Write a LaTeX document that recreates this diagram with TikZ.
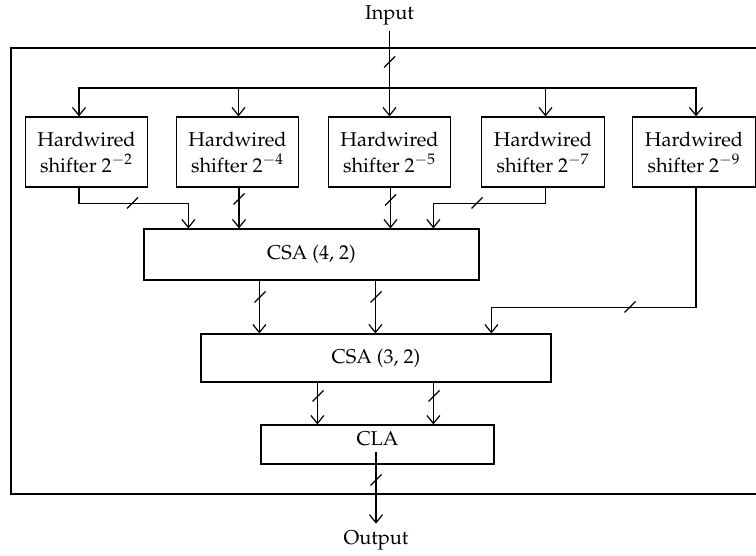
\documentclass[tikz,border=0pt]{standalone}
\usepackage[T1]{fontenc}
\usepackage{mathpazo}
\usetikzlibrary{arrows.meta,calc}

\tikzset{
  shifter/.style={draw, minimum width=61.25pt, minimum height=35pt, inner sep=0pt,
    align=center, font=\fontsize{10}{13}\selectfont},
  adder/.style={draw, inner sep=0pt, font=\fontsize{10}{12}\selectfont},
  ioname/.style={inner sep=3pt, font=\fontsize{10}{12}\selectfont},
  buswidth/.pic={\draw (-5.5,5.5) -- (5.5,-5.5);},
}

\begin{document}
\begin{tikzpicture}[x=0.5pt, y=-0.5pt, line width=0.6pt,
    >={Straight Barb[length=4pt,width=6.5pt]}]
  \clip (0,0) rectangle (756,556);

  % enclosing frame (open to the right)
  \draw (11,48) rectangle (770,494);

  % terminals
  \node[ioname] (in)  at (389.5,15)  {Input};
  \node[ioname] (out) at (376,540)   {Output};

  % shifter row
  \node[shifter] (sh1) at (86.5,152)  {Hardwired\\shifter $2^{-2}$};
  \node[shifter] (sh2) at (237.5,152) {Hardwired\\shifter $2^{-4}$};
  \node[shifter] (sh3) at (389.5,152) {Hardwired\\shifter $2^{-5}$};
  \node[shifter] (sh4) at (543,152)   {Hardwired\\shifter $2^{-7}$};
  \node[shifter] (sh5) at (694,152)   {Hardwired\\shifter $2^{-9}$};

  % adder tree
  \node[adder, minimum width=167.5pt, minimum height=25.5pt] (csa42) at (311.5,254.5) {CSA (4, 2)};
  \node[adder, minimum width=175pt, minimum height=24pt]     (csa32) at (376,358)     {CSA (3, 2)};
  \node[adder, minimum width=116.5pt, minimum height=19.5pt,
        label={[font=\fontsize{10}{12}\selectfont, yshift=2.75pt]center:CLA}] (cla) at (377.5,444.5) {};

  % ports
  \coordinate (split) at (389.5,88);
  \coordinate (t1) at ($(sh1.north)+(-7.5,0)$);
  \coordinate (t2) at ($(sh2.north)+(1,0)$);
  \coordinate (t4) at ($(sh4.north)+(2.5,0)$);
  \coordinate (t5) at ($(sh5.north)+(2,0)$);
  \coordinate (o1) at ($(sh1.south)+(-7.5,0)$);
  \coordinate (o2) at ($(sh2.south)+(1.5,0)$);
  \coordinate (o3) at ($(sh3.south)+(1,0)$);
  \coordinate (o4) at ($(sh4.south)+(2.5,0)$);
  \coordinate (o5) at ($(sh5.south)+(2,0)$);
  \coordinate (i1) at ($(csa42.north west)+(45,0)$);
  \coordinate (i4) at ($(csa42.north west)+(290,0)$);
  \coordinate (a1) at ($(csa42.south west)+(116,0)$);
  \coordinate (a2) at ($(csa42.south west)+(232,0)$);
  \coordinate (j3) at ($(csa32.north west)+(291,0)$);
  \coordinate (c1) at ($(csa32.south west)+(117,0)$);
  \coordinate (c2) at ($(csa32.south west)+(233,0)$);
  \coordinate (claout) at ($(cla.center)+(-1.5,7.5)$);

  % input distribution
  \draw[->] (in) -- (sh3);
  \draw[->] (split) -| (t1);
  \draw[->] (split) -| (t5);
  \draw[->] (t2 |- split) -- (t2);
  \draw[->] (t4 |- split) -- (t4);

  % shifter outputs
  \draw[->] (o1) -- ++(0,16) -| (i1);
  \draw[->] (o2) -- (o2 |- csa42.north);
  \draw[->] (o3) -- (o3 |- csa42.north);
  \draw[->] (o4) -- ++(0,16) -| (i4);
  \draw[->] (o5) -- ++(0,120) -| (j3);

  % adder outputs
  \draw[->] (a1) -- (a1 |- csa32.north);
  \draw[->] (a2) -- (a2 |- csa32.north);
  \draw[->] (c1) -- (c1 |- cla.north);
  \draw[->] (c2) -- (c2 |- cla.north);
  \draw[->] (claout) -- (out);

  % bus-width marks
  \pic at (389.5,62) {buswidth};
  \pic at (132.5,203) {buswidth};
  \pic at (239,199) {buswidth};
  \pic at (390.5,200) {buswidth};
  \pic at (477,203) {buswidth};
  \pic at (260,297) {buswidth};
  \pic at (376,297) {buswidth};
  \pic at (630,307) {buswidth};
  \pic at (318,396) {buswidth};
  \pic at (434,396) {buswidth};
  \pic at (376,480) {buswidth};
\end{tikzpicture}
\end{document}
